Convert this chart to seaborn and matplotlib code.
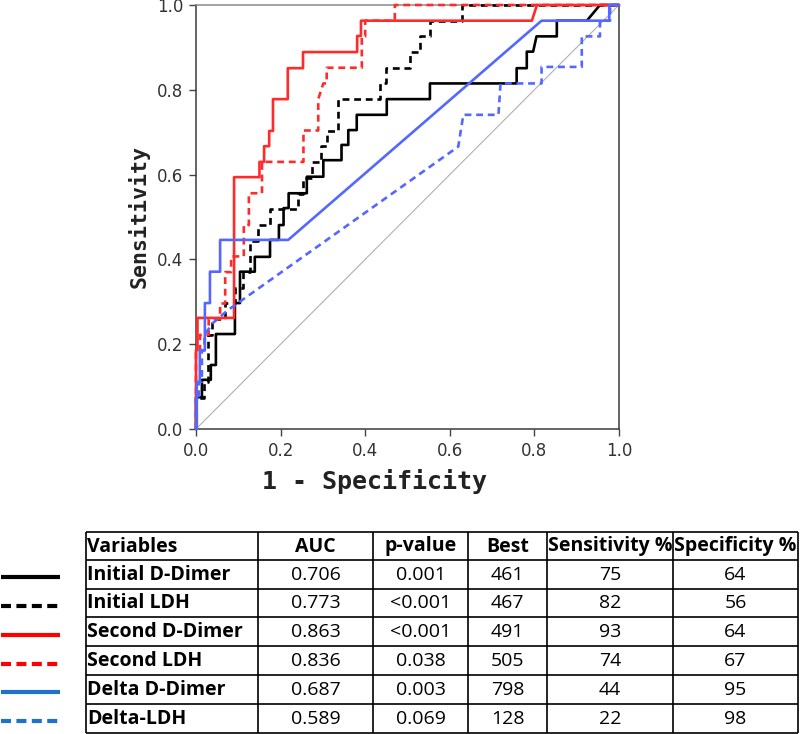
import matplotlib
matplotlib.use("Agg")
import matplotlib.pyplot as plt
import numpy as np
import pandas as pd
import seaborn as sns

sns.set_style("ticks")
plt.rcParams['font.family'] = ['DejaVu Sans']

# ---------------- ROC curve data (1 - specificity, sensitivity) ----------------
init_dd_fpr = [0, 0, 0.014, 0.014, 0.035, 0.035, 0.047, 0.047, 0.092, 0.092, 0.104, 0.104,
               0.139, 0.139, 0.175, 0.175, 0.196, 0.196, 0.207, 0.207, 0.219, 0.219, 0.262, 0.262,
               0.301, 0.301, 0.344, 0.344, 0.36, 0.36, 0.38, 0.38, 0.451, 0.451, 0.553, 0.553,
               0.758, 0.758, 0.782, 0.782, 0.797, 0.805, 0.853, 0.853, 0.924, 0.955, 1.0]
init_dd_tpr = [0, 0.075, 0.075, 0.116, 0.116, 0.151, 0.151, 0.224, 0.224, 0.297, 0.297, 0.371,
               0.371, 0.406, 0.406, 0.446, 0.446, 0.481, 0.481, 0.521, 0.521, 0.556, 0.556, 0.595,
               0.595, 0.634, 0.634, 0.67, 0.67, 0.705, 0.705, 0.741, 0.741, 0.778, 0.778, 0.815,
               0.815, 0.851, 0.851, 0.89, 0.89, 0.926, 0.926, 0.963, 0.963, 1.0, 1.0]

init_ldh_fpr = [0, 0, 0.02, 0.02, 0.028, 0.028, 0.038, 0.038, 0.069, 0.069, 0.092, 0.092, 0.111,
                0.111, 0.128, 0.128, 0.147, 0.147, 0.175, 0.175, 0.24, 0.24, 0.253, 0.253, 0.274,
                0.274, 0.295, 0.295, 0.31, 0.31, 0.336, 0.336, 0.435, 0.435, 0.449, 0.449, 0.506,
                0.506, 0.53, 0.53, 0.553, 0.553, 0.628, 0.628, 1.0]
init_ldh_tpr = [0, 0.074, 0.074, 0.111, 0.111, 0.222, 0.222, 0.259, 0.259, 0.296, 0.296, 0.333,
                0.333, 0.37, 0.37, 0.444, 0.444, 0.481, 0.481, 0.518, 0.518, 0.555, 0.555, 0.593,
                0.593, 0.63, 0.63, 0.667, 0.667, 0.704, 0.704, 0.778, 0.778, 0.815, 0.815, 0.852,
                0.852, 0.889, 0.889, 0.926, 0.926, 0.963, 0.963, 1.0, 1.0]

sec_dd_fpr = [0, 0, 0.0035, 0.0035, 0.09, 0.09, 0.15, 0.15, 0.161, 0.161, 0.173, 0.173, 0.182,
              0.182, 0.217, 0.217, 0.253, 0.253, 0.381, 0.381, 0.39, 0.39, 0.794, 0.806, 1.0]
sec_dd_tpr = [0, 0.186, 0.186, 0.262, 0.262, 0.594, 0.594, 0.63, 0.63, 0.667, 0.667, 0.703, 0.703,
              0.778, 0.778, 0.851, 0.851, 0.889, 0.889, 0.927, 0.927, 0.963, 0.963, 1.0, 1.0]

sec_ldh_fpr = [0, 0, 0.0095, 0.0095, 0.03, 0.03, 0.057, 0.057, 0.069, 0.069, 0.083, 0.083, 0.113,
               0.113, 0.125, 0.125, 0.156, 0.156, 0.254, 0.254, 0.289, 0.289, 0.301, 0.309, 0.309,
               0.392, 0.392, 0.4, 0.4, 0.47, 0.47, 1.0]
sec_ldh_tpr = [0, 0.185, 0.185, 0.222, 0.222, 0.259, 0.259, 0.296, 0.296, 0.37, 0.37, 0.407, 0.407,
               0.481, 0.481, 0.556, 0.556, 0.63, 0.63, 0.704, 0.704, 0.778, 0.815, 0.815, 0.852,
               0.852, 0.926, 0.926, 0.963, 0.963, 1.0, 1.0]

delta_dd_fpr = [0, 0.002, 0.002, 0.009, 0.009, 0.021, 0.021, 0.033, 0.033, 0.057, 0.057, 0.218,
                0.817, 0.977, 0.977, 1.0]
delta_dd_tpr = [0, 0, 0.111, 0.111, 0.186, 0.186, 0.297, 0.297, 0.371, 0.371, 0.446, 0.446,
                0.963, 0.963, 1.0, 1.0]

delta_ldh_fpr = [0, 0, 0.007, 0.007, 0.014, 0.014, 0.02, 0.02, 0.04, 0.075, 0.62, 0.632, 0.715,
                 0.72, 0.817, 0.817, 0.912, 0.912, 0.955, 0.955, 0.979, 0.979, 1.0]
delta_ldh_tpr = [0, 0.074, 0.074, 0.111, 0.111, 0.185, 0.185, 0.222, 0.25, 0.28, 0.666, 0.741,
                 0.741, 0.815, 0.815, 0.854, 0.854, 0.926, 0.926, 0.963, 0.963, 1.0, 1.0]

# ---------------- table data ----------------
headers = ["Variables", "AUC", "p-value", "Best", "Sensitivity %", "Specificity %"]
variables = ["Initial D-Dimer", "Initial LDH", "Second D-Dimer", "Second LDH",
             "Delta D-Dimer", "Delta-LDH"]
auc = ["0.706", "0.773", "0.863", "0.836", "0.687", "0.589"]
pvals = ["0.001", "<0.001", "<0.001", "0.038", "0.003", "0.069"]
best = ["461", "467", "491", "505", "798", "128"]
sens = ["75", "82", "93", "74", "44", "22"]
spec = ["64", "56", "64", "67", "95", "98"]

tick_vals = [0.0, 0.2, 0.4, 0.6, 0.8, 1.0]
tick_labels = ["0.0", "0.2", "0.4", "0.6", "0.8", "1.0"]

# ---------------- styles ----------------
RED = "#FF2B2B"
BLUE = "#5468FF"
series = [
    (init_dd_fpr, init_dd_tpr, "black", "-"),
    (init_ldh_fpr, init_ldh_tpr, "black", "--"),
    (sec_dd_fpr, sec_dd_tpr, RED, "-"),
    (sec_ldh_fpr, sec_ldh_tpr, RED, "--"),
    (delta_dd_fpr, delta_dd_tpr, BLUE, "-"),
    (delta_ldh_fpr, delta_ldh_tpr, BLUE, "--"),
]
legend_styles = [("black", "-"), ("black", "--"), ("#FF0000", "-"), ("#FF0000", "--"),
                 ("#1F72CC", "-"), ("#1F72CC", "--")]

W, H = 800, 734
fig = plt.figure(figsize=(W / 100, H / 100), dpi=100)

# ---------------- ROC axes ----------------
ax = fig.add_axes([196 / W, 1 - 429 / H, 423 / W, 424 / H])
ax.plot([0, 1], [0, 1], color="#B0B0B0", lw=0.8, zorder=1)
for fpr, tpr, col, ls in series:
    df = pd.DataFrame({"fpr": fpr, "tpr": tpr})
    sns.lineplot(data=df, x="fpr", y="tpr", sort=False, estimator=None, color=col,
                 lw=1.9, ax=ax, zorder=3)
    line = ax.lines[-1]
    line.set_clip_on(False)
    if ls == "--":
        line.set_dashes((2.6, 1.8))

ax.set_xlim(0, 1)
ax.set_ylim(0, 1)
ax.set_xticks(tick_vals)
ax.set_xticklabels(tick_labels)
ax.set_yticks(tick_vals)
ax.set_yticklabels(tick_labels)
ax.tick_params(axis="both", direction="out", length=5, width=1, colors="#444444",
               labelsize=12, labelcolor="#333333", pad=4)
for side in ["left", "bottom", "right"]:
    ax.spines[side].set_color("#3a3a3a")
    ax.spines[side].set_linewidth(1.1)
ax.spines["top"].set_color("#8a8a8a")
ax.spines["top"].set_linewidth(1.1)

lab_font = ["DejaVu Sans Mono", "DejaVu Sans"]
ax.set_xlabel("1 - Specificity", fontsize=18, fontweight="bold", color="#222222",
              family=lab_font)
ax.set_ylabel("Sensitivity", fontsize=15.5, fontweight="bold", color="#222222",
              family=lab_font)
ax.xaxis.set_label_coords((375 - 196) / 423, (429 - 469) / 424)
ax.yaxis.set_label_coords((150 - 196) / 423, 0.5)

# ---------------- table ----------------
tax = fig.add_axes([0, 0, 1, 214 / H])
tax.set_xlim(0, W)
tax.set_ylim(H, 520)
tax.axis("off")

col_edges = [86, 258, 373, 468, 547, 673, 798]
row_edges = [532, 560, 588.5, 617, 646, 675, 703.5, 732.5]
tfont = dict(family=["Open Sans", "DejaVu Sans"], fontsize=14, color="black")

for xe in col_edges:
    tax.plot([xe, xe], [row_edges[0], row_edges[-1]], color="black", lw=1.2, solid_capstyle="butt")
for ye in row_edges:
    tax.plot([col_edges[0], col_edges[-1]], [ye, ye], color="black", lw=1.2, solid_capstyle="butt")

def cell_text(col, row, text, bold):
    yc = (row_edges[row] + row_edges[row + 1]) / 2 + 0.5
    if col == 0:
        tax.text(col_edges[0] + 1, yc, text, ha="left", va="center",
                 fontweight="bold" if bold else "normal", **tfont)
    else:
        xc = (col_edges[col] + col_edges[col + 1]) / 2
        tax.text(xc, yc, text, ha="center", va="center",
                 fontweight="bold" if bold else "normal", **tfont)

for c, h in enumerate(headers):
    cell_text(c, 0, h, True)
columns = [variables, auc, pvals, best, sens, spec]
for c, vals in enumerate(columns):
    for r, v in enumerate(vals):
        cell_text(c, r + 1, v, c == 0)

for r, (col, ls) in enumerate(legend_styles):
    yc = (row_edges[r + 1] + row_edges[r + 2]) / 2 + 3
    ln, = tax.plot([1, 60], [yc, yc], color=col, lw=3.0, solid_capstyle="butt")
    if ls == "--":
        ln.set_dashes((2.4, 1.3))

fig.savefig("out.png", dpi=100)
